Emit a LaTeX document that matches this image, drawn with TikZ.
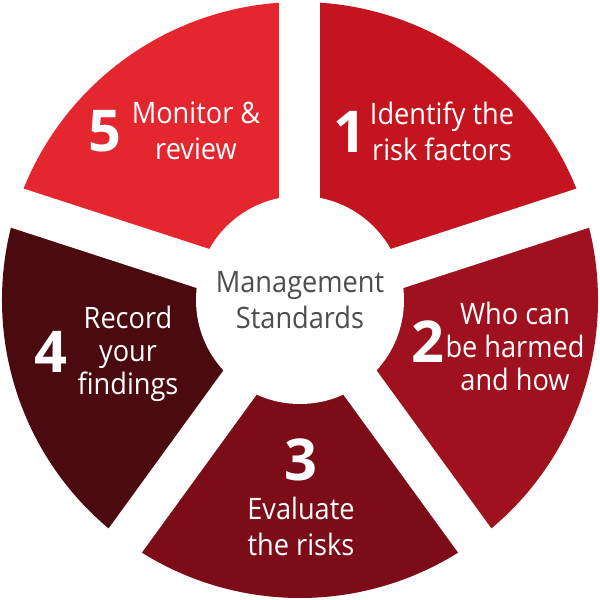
\documentclass[tikz,border=0pt]{standalone}
\usepackage{fontspec}
\setmainfont{Open Sans}
\newfontfamily\slimface{Open Sans}[FakeStretch=0.92]
\definecolor{stepone}{HTML}{C3141F}
\definecolor{steptwo}{HTML}{A0111F}
\definecolor{stepthree}{HTML}{7C0C17}
\definecolor{stepfour}{HTML}{4B0A10}
\definecolor{stepfive}{HTML}{E4262E}
\definecolor{hubgray}{HTML}{4D4D4D}
\tikzset{num/.style={text=white,inner sep=0,font=\fontsize{41}{41}\selectfont\bfseries},
  lbl/.style={text=white,inner sep=0,align=center,font=\slimface\fontsize{21}{25.5}\selectfont}}
\begin{document}
\begin{tikzpicture}
\useasboundingbox (-7.5,-7.5) rectangle (7.5,7.5);
\foreach \a/\c in {18/stepone,-54/steptwo,-126/stepthree,162/stepfour,90/stepfive}{\fill[\c] (0,0) -- (\a:7.45) arc[start angle=\a,delta angle=72,radius=7.45] -- cycle;}
\foreach \a in {90,18,-54,-126,162}{\draw[white,line width=1.025cm] (0,0) -- (\a:7.6);}
\fill[white] (0,0) circle (2.6);
\node[lbl,text=hubgray] (hub) at (0,0) {Management\\Standards};
\node[num] (n1) at (1.25,4.2) {1};
\node[lbl] (t1) at (3.55,4.225) {Identify the\\risk factors};
\node[num] (n2) at (3.2,-1.05) {2};
\node[lbl,font=\slimface\fontsize{21}{23.5}\selectfont] (t2) at (5.375,-1.16) {Who can\\be harmed\\and how};
\node[num] (n3) at (0.025,-4.0) {3};
\node[lbl] (t3) at (0.025,-5.66) {Evaluate\\the risks};
\node[num] (n4) at (-6.225,-1.3) {4};
\node[lbl,font=\slimface\fontsize{21}{23.5}\selectfont] (t4) at (-4.3,-1.35) {Record\\your\\findings};
\node[num] (n5) at (-4.875,4.225) {5};
\node[lbl] (t5) at (-2.6,4.225) {Monitor \&\\review};
\end{tikzpicture}
\end{document}
